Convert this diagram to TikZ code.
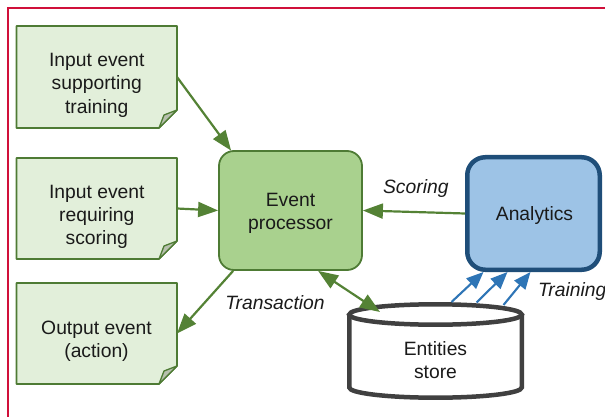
\documentclass[tikz,border=0pt]{standalone}
\usepackage{fontspec}
\setmainfont{Liberation Sans}
\usetikzlibrary{arrows.meta}
\definecolor{notefill}{HTML}{E2EFDA}
\definecolor{noteline}{HTML}{4E7B34}
\definecolor{foldfill}{HTML}{B7C0AE}
\definecolor{epfill}{HTML}{A9D18E}
\definecolor{gline}{HTML}{548235}
\definecolor{anfill}{HTML}{9DC3E6}
\definecolor{anline}{HTML}{1F4E79}
\definecolor{bline}{HTML}{2E75B6}
\definecolor{cylline}{HTML}{404040}
\definecolor{framecol}{HTML}{D0103A}
\definecolor{txtcol}{HTML}{1A1A1A}
\newcommand{\drawnote}[1]{%
  \draw[noteline, line width=1.7pt, fill=notefill, line join=round]
    (#1.north west) -- (#1.north east) -- ([yshift=18pt]#1.south east)
    -- ([xshift=-18pt]#1.south east) -- (#1.south west) -- cycle;
  \draw[noteline, line width=1.3pt, fill=foldfill, line join=round]
    ([yshift=18pt]#1.south east)
    .. controls ([xshift=-6pt,yshift=15pt]#1.south east) .. ([xshift=-13pt,yshift=13pt]#1.south east)
    -- ([xshift=-18pt]#1.south east) -- cycle;
}
\begin{document}
\begin{tikzpicture}[x=1pt,y=-1pt,
  shapebox/.style={inner sep=0pt, outer sep=0pt, draw=none},
  lbl/.style={inner sep=0pt, outer sep=0pt, align=center, text=txtcol,
    font=\fontsize{19.3}{23.3}\selectfont},
  ilbl/.style={lbl, font=\fontsize{19.3}{23.3}\selectfont\itshape},
  garrow/.style={draw=gline, line width=2.2pt, -{Triangle[length=20pt,width=15pt]}},
  gdarrow/.style={draw=gline, line width=2.2pt, {Triangle[length=20pt,width=15pt]}-{Triangle[length=20pt,width=15pt]}},
  barrow/.style={draw=bline, line width=2.1pt, -{Triangle[length=17pt,width=14pt]}},
  cylstyle/.style={draw=cylline, line width=4.5pt, fill=white}
]
\useasboundingbox (0,0) rectangle (605,417);
\draw[framecol, line width=2pt] (7.7,417) -- (7.7,7.7) -- (605,7.7);

% note boxes
\node[shapebox, minimum width=160.5pt, minimum height=102pt] (b1) at (96.75,77) {};
\node[shapebox, minimum width=160.5pt, minimum height=101pt] (b2) at (96.75,208.5) {};
\node[shapebox, minimum width=160.5pt, minimum height=101pt] (b3) at (96.75,333.5) {};
\drawnote{b1}
\drawnote{b2}
\drawnote{b3}

% event processor
\node[draw=noteline, fill=epfill, line width=1.8pt, rounded corners=15pt,
  minimum width=143pt, minimum height=119pt, inner sep=0pt] (ep) at (290.5,210.5) {};

% analytics
\node[draw=anline, fill=anfill, line width=4.5pt, rounded corners=18pt,
  minimum width=132.5pt, minimum height=112.5pt, inner sep=0pt] (an) at (533.5,213.5) {};

% store
\node[shapebox, minimum width=177pt, minimum height=98pt] (store) at (435.5,351) {};
\filldraw[cylstyle] (349.25,314.5) -- (349.25,387.5)
  arc[start angle=180, end angle=360, x radius=86.25pt, y radius=10.2pt]
  -- (521.75,314.5);
\draw[cylstyle] (435.5,314.5) ellipse [x radius=86.25pt, y radius=10.2pt];

% texts
\node[lbl] (b1t) at (96.75,85.2) {Input event\\supporting\\training};
\node[lbl] (b2t) at (96.75,216.8) {Input event\\requiring\\scoring};
\node[lbl] (b3t) at (96.5,341.6) {Output event\\(action)};
\node[lbl] (ept) at (290.5,213.5) {Event\\processor};
\node[lbl] (ant) at (534.5,216) {Analytics};
\node[lbl] (storet) at (435.5,359.9) {Entities\\store};
\node[ilbl] (scoring) at (415.8,188.3) {Scoring};
\node[ilbl] (transaction) at (275,302.4) {Transaction};
\node[ilbl, anchor=west] (training) at (538,291.8) {Training};

% connectors
\draw[garrow] (b1.east) -- ([xshift=13pt,yshift=-0.5pt]ep.north west);
\draw[garrow] (b2.east) -- (ep.west);
\draw[garrow] ([xshift=15pt]ep.south west) -- (b3.east);
\draw[gdarrow] ([xshift=100pt]ep.south west) -- ([xshift=33pt,yshift=-10pt]store.north west);
\draw[garrow] (an.west) -- (ep.east);
\draw[barrow] ([xshift=16pt]store.north) -- ([xshift=-50pt]an.south);
\draw[barrow] ([xshift=41pt,yshift=-0.5pt]store.north) -- ([xshift=-26pt]an.south);
\draw[barrow] ([xshift=68pt,yshift=-3pt]store.north) -- ([xshift=-3pt]an.south);
\end{tikzpicture}
\end{document}
